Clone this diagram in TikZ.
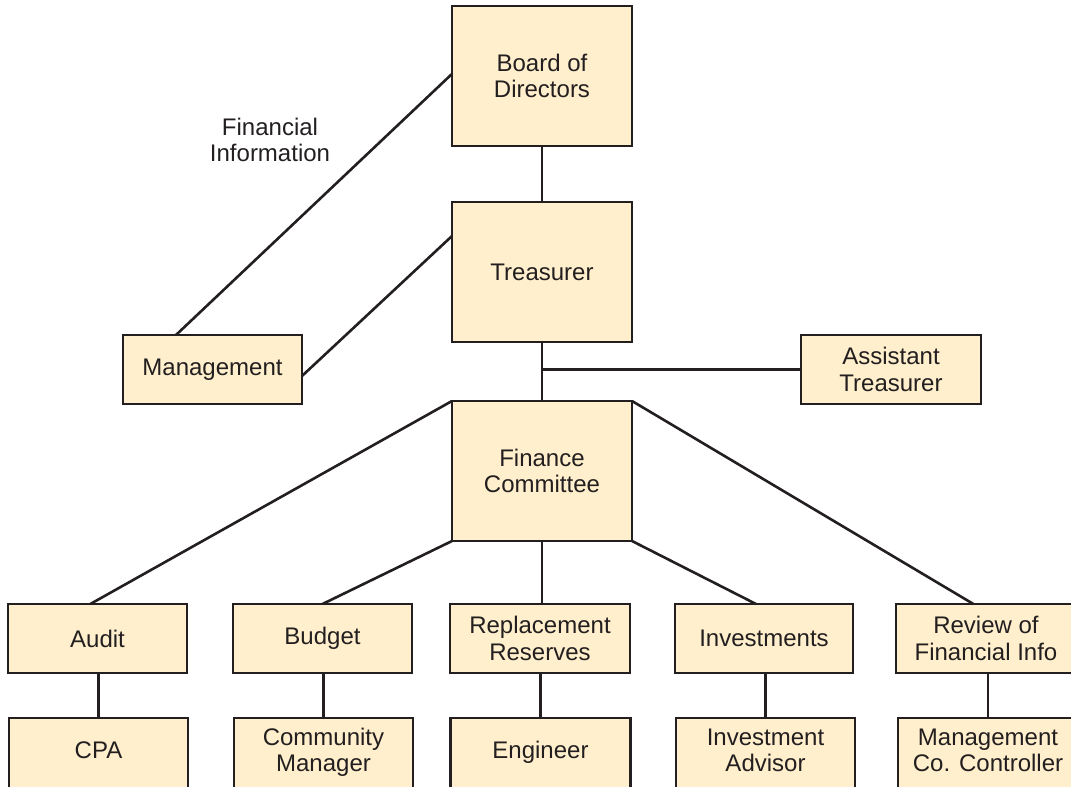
\documentclass[tikz,border=0pt]{standalone}
\usepackage{fontspec}
\setmainfont{Liberation Sans}
\usetikzlibrary{calc}
\definecolor{boxfill}{HTML}{FFEFCC}
\definecolor{ink}{HTML}{231F20}
\newcommand{\upt}[1]{\raisebox{1.5pt}[\height][\depth]{\begin{tabular}{@{}c@{}}#1\end{tabular}}}
\begin{document}
\begin{tikzpicture}[x=0.5pt,y=-0.5pt,
  box/.style={draw=ink, fill=boxfill, line width=1.3pt, inner sep=0pt, outer sep=0pt,
    align=center, text=ink, font=\fontsize{12}{13.3}\selectfont},
  bigbox/.style={box, minimum width=90pt, minimum height=70pt},
  rowbox/.style={box, minimum width=89.5pt, minimum height=34.5pt},
  lowbox/.style={rowbox, minimum height=38pt},
  link/.style={draw=ink, line width=1.3pt},
  lbl/.style={align=center, text=ink, font=\fontsize{12}{13.3}\selectfont, inner sep=0pt}]
\useasboundingbox (0,0) rectangle (1071,787);
\clip (0,0) rectangle (1071,787);
% top column
\node[bigbox] (board) at (542,76) {Board of\\Directors};
\node[bigbox] (treas) at (542,272) {Treasurer};
\node[bigbox] (fc) at (542,471) {Finance\\Committee};
\node[rowbox, minimum width=90pt] (asst) at (891,369.5) {Assistant\\Treasurer};
\node[rowbox] (mgmt) at (212.5,369.5) {Management};
\node[lbl] (fininfo) at (270,140) {Financial\\Information};
% row 1
\node[rowbox] (audit) at (97.5,638.5) {Audit};
\node[rowbox] (budget) at (322.5,638.5) {Budget};
\node[rowbox, minimum width=90pt] (repl) at (540,638.5) {Replacement\\Reserves};
\node[rowbox, minimum width=89pt] (invest) at (764,638.5) {Investments};
\node[rowbox, minimum width=90pt] (review) at (986,638.5) {Review of\\Financial Info};
% row 2
\node[lowbox] (cpa) at (98.5,756) {\upt{CPA}};
\node[lowbox] (comm) at (323.5,756) {\upt{Community\\Manager}};
\node[lowbox, minimum width=90pt] (eng) at (540.5,756) {\upt{Engineer}};
\node[lowbox] (advisor) at (765.5,756) {\upt{Investment\\Advisor}};
\node[lowbox, minimum width=90pt] (ctrl) at (988,756) {\upt{Management\\Co. Controller}};
% connectors
\draw[link] (board.south) -- (treas.north);
\draw[link] (treas.south) -- (fc.north);
\draw[link] (asst.west -| treas.south) -- (asst.west);
\draw[link] ($(mgmt.north west)!0.296!(mgmt.north east)$) -- ($(board.north west)!0.485!(board.south west)$);
\draw[link] ($(mgmt.north east)!0.594!(mgmt.south east)$) -- ($(treas.north west)!0.243!(treas.south west)$);
\draw[link] (fc.north west) -- ($(audit.north west)!0.46!(audit.north east)$);
\draw[link] (fc.south west) -- (budget.north);
\draw[link] (fc.south) -- (fc.south |- repl.north);
\draw[link] (fc.south east) -- ($(invest.north west)!0.455!(invest.north east)$);
\draw[link] (fc.north east) -- ($(review.north west)!0.43!(review.north east)$);
\draw[link] (audit.south -| cpa.north) -- (cpa.north);
\draw[link] (budget.south -| comm.north) -- (comm.north);
\draw[link] (repl.south -| eng.north) -- (eng.north);
\draw[link] (invest.south -| advisor.north) -- (advisor.north);
\draw[link] (review.south -| ctrl.north) -- (ctrl.north);
\end{tikzpicture}
\end{document}
